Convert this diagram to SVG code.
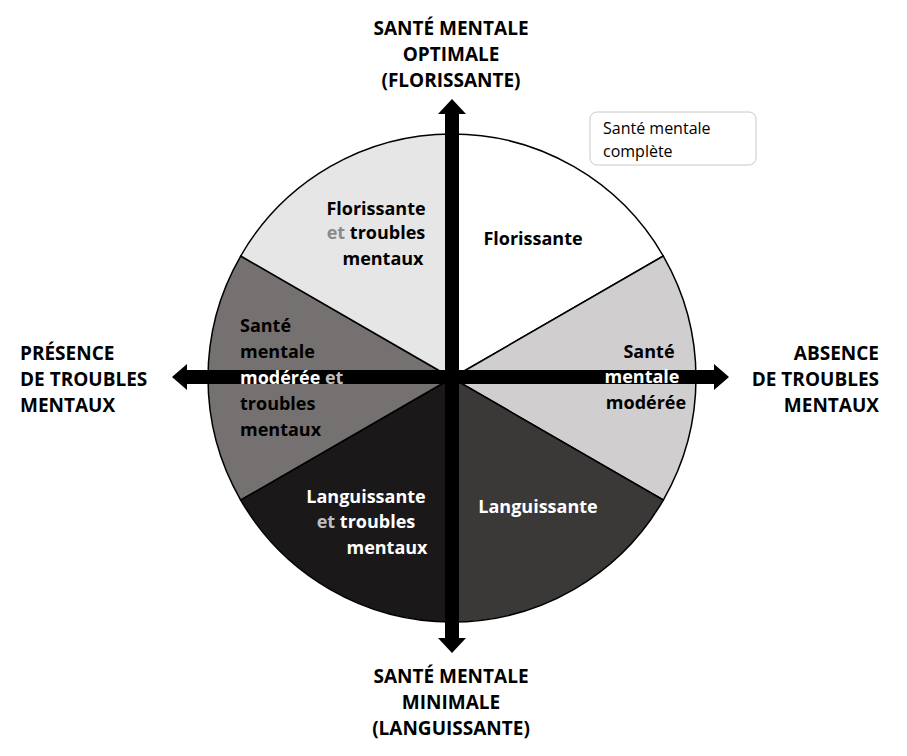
<svg xmlns="http://www.w3.org/2000/svg" width="907" height="756" viewBox="0 0 907 756">
<style>
text{font-family:"Open Sans","Noto Sans","DejaVu Sans",sans-serif;font-size:18px;font-weight:bold;text-anchor:middle}
.b{fill:#000}.w{fill:#fff}.g{fill:#8a8a8a}.lg{fill:#bfbfbf}
.ax{font-size:19px}
.l{text-anchor:start}
</style>
<rect width="907" height="756" fill="#fff"/>
<g id="sectors" stroke="#000" stroke-width="1.5">
<path d="M452,378 L452,134 A244,244 0 0 1 663.3,256 Z" fill="#ffffff"/>
<path d="M452,378 L663.3,256 A244,244 0 0 1 663.3,500 Z" fill="#d0cece"/>
<path d="M452,378 L663.3,500 A244,244 0 0 1 452,622 Z" fill="#3b3838"/>
<path d="M452,378 L452,622 A244,244 0 0 1 240.7,500 Z" fill="#1a1818"/>
<path d="M452,378 L240.7,500 A244,244 0 0 1 240.7,256 Z" fill="#767171"/>
<path d="M452,378 L240.7,256 A244,244 0 0 1 452,134 Z" fill="#e7e6e6"/>
</g>
<g id="connectors" fill="#000">
<polygon points="452,99 466,114 459,114 459,638 466,638 452,653 438,638 445,638 445,114 438,114"/>
<polygon points="172,377 187,364 187,370 714,370 714,364 729,377 714,390 714,384 187,384 187,390"/>
</g>
<g id="n-florissante"><text x="533" y="245" class="b">Florissante</text></g>
<g id="n-flor-troubles">
<text x="376" y="215" class="b">Florissante</text>
<text x="376" y="239"><tspan class="g">et</tspan><tspan class="b"> troubles</tspan></text>
<text x="383" y="265" class="b">mentaux</text>
</g>
<g id="n-moderee">
<text x="649" y="358" class="b">Santé</text>
<text x="642" y="383" class="w">mentale</text>
<text x="646" y="409" class="b">modérée</text>
</g>
<g id="n-mod-troubles">
<text x="240" y="332" class="b l">Santé</text>
<text x="240" y="358" class="b l">mentale</text>
<text x="240" y="384" class="l"><tspan class="w">modérée</tspan><tspan class="lg"> et</tspan></text>
<text x="240" y="410" class="b l">troubles</text>
<text x="240" y="436" class="b l">mentaux</text>
</g>
<g id="n-languissante"><text x="538" y="513" class="w">Languissante</text></g>
<g id="n-lang-troubles">
<text x="366" y="503" class="w">Languissante</text>
<text x="366" y="528"><tspan class="lg">et</tspan><tspan class="w"> troubles</tspan></text>
<text x="387" y="554" class="w">mentaux</text>
</g>
<g id="legend">
<rect x="590" y="112" width="166" height="53" rx="7" fill="#fff" stroke="#c8c8c8"/>
<text x="603" y="134" style="font-weight:normal;text-anchor:start;font-size:16px">Santé mentale</text>
<text x="603" y="157" style="font-weight:normal;text-anchor:start;font-size:16px">complète</text>
</g>
<g id="labels">
<text x="451" y="35" class="ax b">SANTÉ MENTALE</text>
<text x="451" y="61" class="ax b">OPTIMALE</text>
<text x="451" y="87" class="ax b">(FLORISSANTE)</text>
<text x="451" y="683" class="ax b">SANTÉ MENTALE</text>
<text x="451" y="709" class="ax b">MINIMALE</text>
<text x="451" y="735" class="ax b">(LANGUISSANTE)</text>
<text x="20" y="360" class="ax b l">PRÉSENCE</text>
<text x="20" y="386" class="ax b l">DE TROUBLES</text>
<text x="20" y="412" class="ax b l">MENTAUX</text>
<text x="879" y="360" class="ax b" style="text-anchor:end">ABSENCE</text>
<text x="879" y="386" class="ax b" style="text-anchor:end">DE TROUBLES</text>
<text x="879" y="412" class="ax b" style="text-anchor:end">MENTAUX</text>
</g>
</svg>
